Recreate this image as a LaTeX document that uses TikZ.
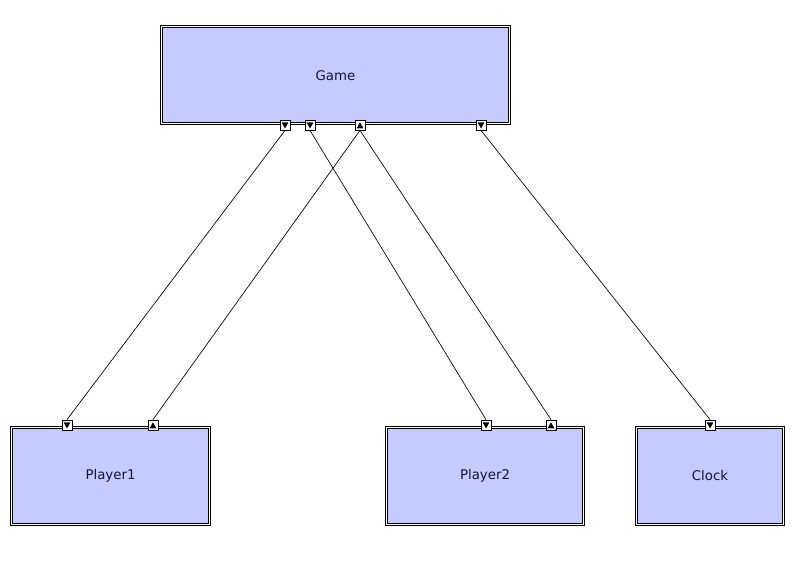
\documentclass[tikz,border=0pt]{standalone}
\usepackage{fontspec}
\setmainfont{DejaVu Sans}
\begin{document}
\begin{tikzpicture}[x=0.75pt,y=-0.75pt,
  block/.style={draw=black, double=white, line width=0.75pt, double distance=0.75pt,
    fill={rgb,255:red,197;green,203;blue,255}, inner sep=0pt,
    minimum height=72.75pt, text={rgb,255:red,20;green,20;blue,60},
    font=\fontsize{10}{12}\selectfont},
  port/.style={draw=black, fill=white, line width=0.6pt, inner sep=0pt, minimum size=7.5pt},
  portdown/.style={port, path picture={\fill[black] ([xshift=-2.6pt,yshift=2pt]path picture bounding box.center) -- ++(5.2pt,0) -- ([yshift=-2.6pt]path picture bounding box.center) -- cycle;}},
  portup/.style={port, path picture={\fill[black] ([xshift=-2.6pt,yshift=-2.6pt]path picture bounding box.center) -- ++(5.2pt,0) -- ([yshift=2pt]path picture bounding box.center) -- cycle;}},
  link/.style={draw=black, line width=0.5pt}]
\useasboundingbox (0,0) rectangle (800,588);
\node[block, minimum width=261pt] (game) at (335.5,75.5) {Game};
\node[block, minimum width=148.5pt] (p1) at (110.5,475.5) {Player1};
\node[block, minimum width=147.75pt] (p2) at (485,475.5) {Player2};
\node[block, minimum width=110.25pt] (clock) at (710,475.5) {Clock};
% ports on Game
\node[portdown] (g1) at (285,125) {};
\node[portdown] (g2) at (310,125) {};
\node[portup] (g3) at (360,125) {};
\node[portdown] (g4) at (481,125) {};
% ports on players and clock
\node[portdown] (a1) at (67,425) {};
\node[portup] (a2) at (153,425) {};
\node[portdown] (b1) at (486,425) {};
\node[portup] (b2) at (551,425) {};
\node[portdown] (c1) at (710,425) {};
% connectors
\draw[link] (g1.south) -- (a1.north);
\draw[link] (g2.south) -- (b1.north);
\draw[link] (g3.south) -- (a2.north);
\draw[link] (g3.south) -- (b2.north);
\draw[link] (g4.south) -- (c1.north);
\end{tikzpicture}
\end{document}
